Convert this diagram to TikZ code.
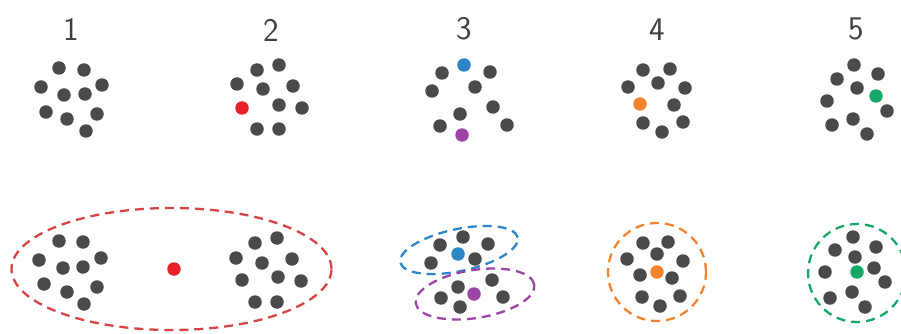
\documentclass[tikz,border=0pt]{standalone}
\usepackage{xcolor}
\usepackage{tikz}

\definecolor{dotgray}{HTML}{4A4A4A}
\definecolor{numgray}{HTML}{404040}
\definecolor{hitred}{HTML}{E8202A}
\definecolor{ringred}{HTML}{D94343}
\definecolor{hitblue}{HTML}{2B85C6}
\definecolor{hitpurple}{HTML}{9C45A6}
\definecolor{hitorange}{HTML}{F5822F}
\definecolor{hitgreen}{HTML}{17A768}

\begin{document}
\begin{tikzpicture}[
  x=1pt, y=-1pt,
  dot/.style={circle, fill=dotgray, inner sep=0pt, minimum size=13.5pt},
  num/.style={font=\sffamily\fontsize{33}{36}\selectfont, text=numgray},
  ring/.style={line width=2.3pt, dash pattern=on 9pt off 6pt}
]
  \useasboundingbox (0,0) rectangle (901,334);

  % numbers
  \node[num] (lab1) at (71,29) {1};
  \node[num] (lab2) at (271,30) {2};
  \node[num] (lab3) at (464,29) {3};
  \node[num] (lab4) at (657,30) {4};
  \node[num] (lab5) at (856,29) {5};

  % top row
  \foreach \p [count=\i] in {(59,68),(84,70),(41,87),(102,85),(64,95),(85,94),(46,112),(67,119),(97,114),(86,131)}
    \node[dot] (ta-\i) at \p {};
  \foreach \p [count=\i] in {(257,70),(279,65),(237,84),(263,89),(293,86),(279,105),(302,108),(257,129),(279,129)}
    \node[dot] (tb-\i) at \p {};
  \node[dot, fill=hitred] (tb-hit) at (242,108) {};
  \foreach \p [count=\i] in {(442,73),(490,72),(432,91),(475,87),(460,114),(493,107),(440,126),(507,125)}
    \node[dot] (tc-\i) at \p {};
  \node[dot, fill=hitblue] (tc-hitA) at (464,65) {};
  \node[dot, fill=hitpurple] (tc-hitB) at (462,135) {};
  \foreach \p [count=\i] in {(643,70),(670,69),(628,87),(658,83),(685,88),(674,105),(643,123),(683,122),(662,132)}
    \node[dot] (td-\i) at \p {};
  \node[dot, fill=hitorange] (td-hit) at (640,104) {};
  \foreach \p [count=\i] in {(854,65),(837,79),(878,74),(857,88),(827,101),(887,111),(832,125),(853,119),(867,134)}
    \node[dot] (te-\i) at \p {};
  \node[dot, fill=hitgreen] (te-hit) at (876,96) {};

  % bottom row
  \draw[ring, ringred] (171.5,269) ellipse [x radius=160pt, y radius=61pt];
  \foreach \p [count=\i] in {(59,241),(83,242),(39,260),(101,258),(63,268),(83,267),(44,284),(67,292),(97,287),(84,304),
                             (255,243),(277,238),(236,258),(262,263),(292,259),(242,280),(278,277),(301,281),(255,302),(277,302)}
    \node[dot] (ba-\i) at \p {};
  \node[dot, fill=hitred] (ba-hit) at (174,269) {};

  \draw[ring, hitblue] (459,250) ellipse [x radius=60pt, y radius=21pt, rotate=12];
  \draw[ring, hitpurple] (475,294) ellipse [x radius=60pt, y radius=24pt, rotate=9];
  \foreach \p [count=\i] in {(440,245),(463,237),(488,244),(475,259),(431,263),
                             (458,287),(492,280),(441,298),(503,297),(460,307)}
    \node[dot] (bc-\i) at \p {};
  \node[dot, fill=hitblue] (bc-hitA) at (458,254) {};
  \node[dot, fill=hitpurple] (bc-hitB) at (474,294) {};

  \draw[ring, hitorange] (657,272) circle [radius=49pt];
  \foreach \p [count=\i] in {(643,243),(668,242),(627,259),(657,254),(683,261),(640,275),(672,278),(642,297),(660,306),(680,296)}
    \node[dot] (bd-\i) at \p {};
  \node[dot, fill=hitorange] (bd-hit) at (657,272) {};

  \draw[ring, hitgreen] (857,273) circle [radius=49pt];
  \foreach \p [count=\i] in {(853,237),(835,250),(876,247),(855,257),(825,272),(874,268),(885,282),(830,298),(852,292),(865,307)}
    \node[dot] (be-\i) at \p {};
  \node[dot, fill=hitgreen] (be-hit) at (857,272) {};
\end{tikzpicture}
\end{document}
